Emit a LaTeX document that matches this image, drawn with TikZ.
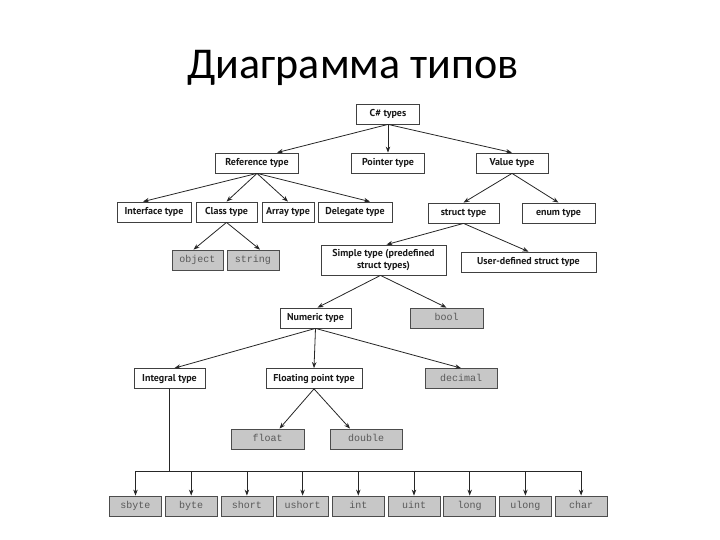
\documentclass[tikz,border=0pt]{standalone}
\usepackage{fontspec}
\setmainfont{PT Sans}
\newfontfamily\titlefont{Carlito}
\newfontfamily\monofont{Liberation Mono}
\usetikzlibrary{arrows.meta,calc}
\tikzset{
  box/.style={draw=black!75, line width=0.8pt, fill=white, inner sep=0pt, minimum height=20pt,
    text height=7.2pt, text depth=2.2pt,
    font=\fontsize{10}{12.5}\selectfont\bfseries, text=black!90},
  gbox/.style={draw=black!70, line width=0.8pt, fill=black!22, inner sep=0pt, minimum height=20pt,
    text height=7pt, text depth=2pt,
    font=\fontsize{10}{11}\monofont, text=black!65},
  link/.style={draw=black!85, line width=0.8pt, -{Stealth[length=6pt,width=4.5pt]}},
  plain/.style={draw=black!85, line width=0.8pt}
}
\begin{document}
\begin{tikzpicture}[x=1pt,y=-1pt]
\useasboundingbox (0,0) rectangle (720,540);
\node[font=\titlefont\fontsize{44}{48}\selectfont, anchor=base, inner sep=0pt] (title) at (353,79) {Диаграмма типов};

\node[box, minimum width=63pt] (ct) at (388,114) {C\# types};
\node[box, minimum width=83pt] (ref) at (257,163) {Reference type};
\node[box, minimum width=73pt] (ptr) at (388,163) {Pointer type};
\node[box, minimum width=72pt] (val) at (512,163) {Value type};

\node[box, minimum width=74pt] (ifc) at (154,212) {Interface type};
\node[box, minimum width=61pt] (cls) at (226.5,212) {Class type};
\node[box, minimum width=52pt] (ary) at (288,212) {Array type};
\node[box, minimum width=74pt] (dlg) at (355,212) {Delegate type};
\node[box, minimum width=71pt] (str) at (463.5,213) {struct type};
\node[box, minimum width=73pt] (enm) at (558.5,213) {enum type};

\node[gbox, minimum width=51pt] (obj) at (197.5,260) {object};
\node[gbox, minimum width=52pt] (sng) at (253,260) {string};
\node[box, minimum width=125pt, minimum height=30pt, text height=, text depth=, align=center] (smp) at (383.5,260) {Simple type (predefined\\struct types)};
\node[box, minimum width=135pt] (usr) at (528.5,262) {User-defined struct type};

\node[box, minimum width=71pt] (num) at (315.5,318) {Numeric type};
\node[gbox, minimum width=73pt] (bol) at (446.5,318) {bool};

\node[box, minimum width=71pt] (itg) at (169.5,378.5) {Integral type};
\node[box, minimum width=96pt] (flp) at (314,378.5) {Floating point type};
\node[gbox, minimum width=72pt] (dec) at (461,378.5) {decimal};

\node[gbox, minimum width=73pt] (flt) at (267.5,439) {float};
\node[gbox, minimum width=72pt] (dbl) at (366,439) {double};

\foreach \n/\t [count=\i from 0] in {sb/sbyte,by/byte,sh/short,us/ushort,in/int,ui/uint,lo/long,ul/ulong,ch/char}{
  \node[gbox, minimum width=52pt] (\n) at (135.5+55.7*\i,506) {\t};
}

% connectors
\draw[link] (ct.south) -- ($(ref.north)+(20,0)$);
\draw[link] (ct.south) -- (ptr.north);
\draw[link] (ct.south) -- (val.north);

\draw[link] (ref.south) -- ($(ifc.north)+(-11,0)$);
\draw[link] (ref.south) -- (cls.north);
\draw[link] (ref.south) -- (ary.north);
\draw[link] (ref.south) -- ($(dlg.north)+(15,0)$);

\draw[link] (val.south) -- (str.north);
\draw[link] (val.south) -- (enm.north);

\draw[link] (cls.south) -- ($(obj.north)+(-4,0)$);
\draw[link] (cls.south) -- ($(sng.north)+(7,0)$);

\draw[link] (str.south) -- ($(smp.north)+(3,0)$);
\draw[link] (str.south) -- (usr.north);

\draw[link] ($(smp.south)+(-3,0)$) -- ($(num.north)+(2,0)$);
\draw[link] ($(smp.south)+(-3,0)$) -- (bol.north);

\draw[link] (num.south) -- ($(itg.north)+(5,0)$);
\draw[link] (num.south) -- (flp.north);
\draw[link] (num.south) -- (dec.north);

\draw[link] (flp.south) -- ($(flt.north)+(12,0)$);
\draw[link] (flp.south) -- ($(dbl.north)+(-16,0)$);

\coordinate (bus) at (169.5,471);
\draw[plain] (itg.south) -- (bus);
\draw[plain] (bus -| sb) -- (bus -| ch);
\foreach \n in {sb,by,sh,us,in,ui,lo,ul,ch}{
  \draw[link] (bus -| \n) -- (\n.north);
}
\end{tikzpicture}
\end{document}
